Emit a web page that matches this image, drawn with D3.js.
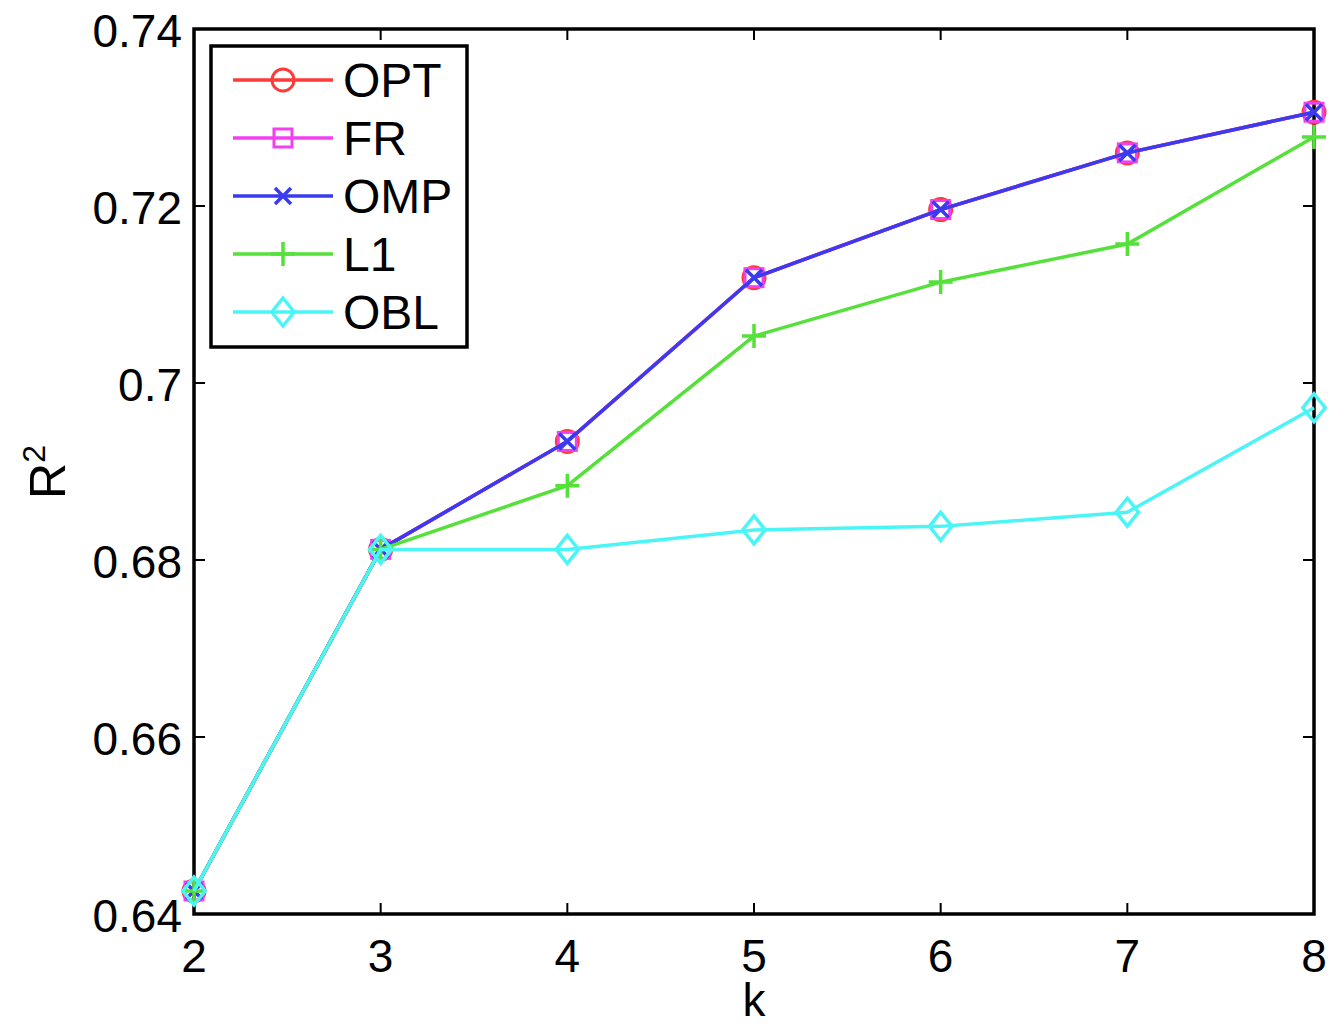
<!DOCTYPE html>
<html>
<head>
<meta charset="utf-8">
<script src="https://cdn.jsdelivr.net/npm/d3@7"></script>
<style>
  body { margin: 0; background: #fff; }
  text { font-family: "Liberation Sans", Arial, Helvetica, sans-serif; }
</style>
</head>
<body>
<div id="container"></div>
<script>
let width = 1331;
let height = 1025;
let margin = {top: 29, right: 17, bottom: 111, left: 194};

let ks = [2, 3, 4, 5, 6, 7, 8];
let optValues = [0.6426, 0.6812, 0.6934, 0.7119, 0.7196, 0.7260, 0.7306];
let frValues  = [0.6426, 0.6812, 0.6934, 0.7119, 0.7196, 0.7260, 0.7306];
let ompValues = [0.6426, 0.6812, 0.6934, 0.7119, 0.7196, 0.7260, 0.7306];
let l1Values  = [0.6426, 0.6812, 0.6884, 0.7053, 0.7114, 0.7157, 0.7278];
let oblValues = [0.6426, 0.6812, 0.6812, 0.6834, 0.6838, 0.6854, 0.6972];
let yTicks = [0.64, 0.66, 0.68, 0.70, 0.72, 0.74];
let yTickLabels = ["0.64", "0.66", "0.68", "0.7", "0.72", "0.74"];
let seriesNames = ["OPT", "FR", "OMP", "L1", "OBL"];

let series = [
  {name: seriesNames[0], values: optValues, color: "#ff3a3a", marker: "circle"},
  {name: seriesNames[1], values: frValues, color: "#f040f0", marker: "square"},
  {name: seriesNames[2], values: ompValues, color: "#3a3aee", marker: "x"},
  {name: seriesNames[3], values: l1Values, color: "#55e03a", marker: "plus"},
  {name: seriesNames[4], values: oblValues, color: "#4cf5f5", marker: "diamond"}
];

let svg = d3.select("#container")
  .append("svg")
  .attr("width", width)
  .attr("height", height);

let innerW = width - margin.left - margin.right;
let innerH = height - margin.top - margin.bottom;

let x = d3.scaleLinear().domain([2, 8]).range([margin.left, margin.left + innerW]);
let y = d3.scaleLinear().domain([0.64, 0.74]).range([margin.top + innerH, margin.top]);

let tickLen = 11;
let fontSize = 46;

// frame
svg.append("rect")
  .attr("x", margin.left).attr("y", margin.top)
  .attr("width", innerW).attr("height", innerH)
  .attr("fill", "none").attr("stroke", "#000").attr("stroke-width", 3.5);

// x ticks (bottom + top, inward)
ks.forEach(function (k) {
  svg.append("line").attr("x1", x(k)).attr("x2", x(k))
    .attr("y1", y(0.64)).attr("y2", y(0.64) - tickLen)
    .attr("stroke", "#000").attr("stroke-width", 2);
  svg.append("line").attr("x1", x(k)).attr("x2", x(k))
    .attr("y1", y(0.74)).attr("y2", y(0.74) + tickLen)
    .attr("stroke", "#000").attr("stroke-width", 2);
  svg.append("text").attr("x", x(k)).attr("y", y(0.64) + 58)
    .attr("text-anchor", "middle").style("font-size", fontSize + "px")
    .text(k);
});

// y ticks (left + right, inward)
yTicks.forEach(function (t, i) {
  svg.append("line").attr("x1", x(2)).attr("x2", x(2) + tickLen)
    .attr("y1", y(t)).attr("y2", y(t))
    .attr("stroke", "#000").attr("stroke-width", 2);
  svg.append("line").attr("x1", x(8)).attr("x2", x(8) - tickLen)
    .attr("y1", y(t)).attr("y2", y(t))
    .attr("stroke", "#000").attr("stroke-width", 2);
  svg.append("text").attr("x", x(2) - 12).attr("y", y(t) + 18)
    .attr("text-anchor", "end").style("font-size", fontSize + "px")
    .text(yTickLabels[i]);
});

// axis labels
svg.append("text").attr("x", x(5)).attr("y", 1016)
  .attr("text-anchor", "middle").style("font-size", fontSize + "px").text("k");
let ylab = svg.append("text")
  .attr("transform", "translate(65,472) rotate(-90)")
  .attr("text-anchor", "middle").style("font-size", "50px");
ylab.append("tspan").text("R");
ylab.append("tspan").attr("dy", -20).style("font-size", "32px").text("2");

function drawMarker(g, type, cx, cy, color) {
  if (type === "circle") {
    g.append("circle").attr("cx", cx).attr("cy", cy).attr("r", 11)
      .attr("fill", "none").attr("stroke", color).attr("stroke-width", 3);
  } else if (type === "square") {
    g.append("rect").attr("x", cx - 9).attr("y", cy - 9).attr("width", 18).attr("height", 18)
      .attr("fill", "none").attr("stroke", color).attr("stroke-width", 3);
  } else if (type === "x") {
    let s = 8;
    g.append("path").attr("d", "M" + (cx - s) + "," + (cy - s) + "L" + (cx + s) + "," + (cy + s) +
      "M" + (cx - s) + "," + (cy + s) + "L" + (cx + s) + "," + (cy - s))
      .attr("stroke", color).attr("stroke-width", 3.5);
  } else if (type === "plus") {
    let s = 12;
    g.append("path").attr("d", "M" + (cx - s) + "," + cy + "L" + (cx + s) + "," + cy +
      "M" + cx + "," + (cy - s) + "L" + cx + "," + (cy + s))
      .attr("stroke", color).attr("stroke-width", 3.5);
  } else if (type === "diamond") {
    let s = 14;
    g.append("path").attr("d", "M" + cx + "," + (cy - s) + "L" + (cx + s * 0.8) + "," + cy +
      "L" + cx + "," + (cy + s) + "L" + (cx - s * 0.8) + "," + cy + "Z")
      .attr("fill", "none").attr("stroke", color).attr("stroke-width", 3.5);
  }
}

let line = d3.line()
  .x(function (d, i) { return x(ks[i]); })
  .y(function (d) { return y(d); });

series.forEach(function (s) {
  let g = svg.append("g");
  g.append("path").datum(s.values)
    .attr("d", line)
    .attr("fill", "none")
    .attr("stroke", s.color)
    .attr("stroke-width", 3.5);
  s.values.forEach(function (v, i) {
    drawMarker(g, s.marker, x(ks[i]), y(v), s.color);
  });
});

// legend
let lg = svg.append("g");
lg.append("rect").attr("x", 211).attr("y", 46).attr("width", 256).attr("height", 301)
  .attr("fill", "#fff").attr("stroke", "#000").attr("stroke-width", 3.5);
series.forEach(function (s, i) {
  let ly = 80 + i * 58;
  lg.append("line").attr("x1", 233).attr("x2", 333).attr("y1", ly).attr("y2", ly)
    .attr("stroke", s.color).attr("stroke-width", 3.5);
  drawMarker(lg, s.marker, 283, ly, s.color);
  lg.append("text").attr("x", 343).attr("y", ly + 17)
    .style("font-size", "48px").text(s.name);
});
</script>
</body>
</html>
